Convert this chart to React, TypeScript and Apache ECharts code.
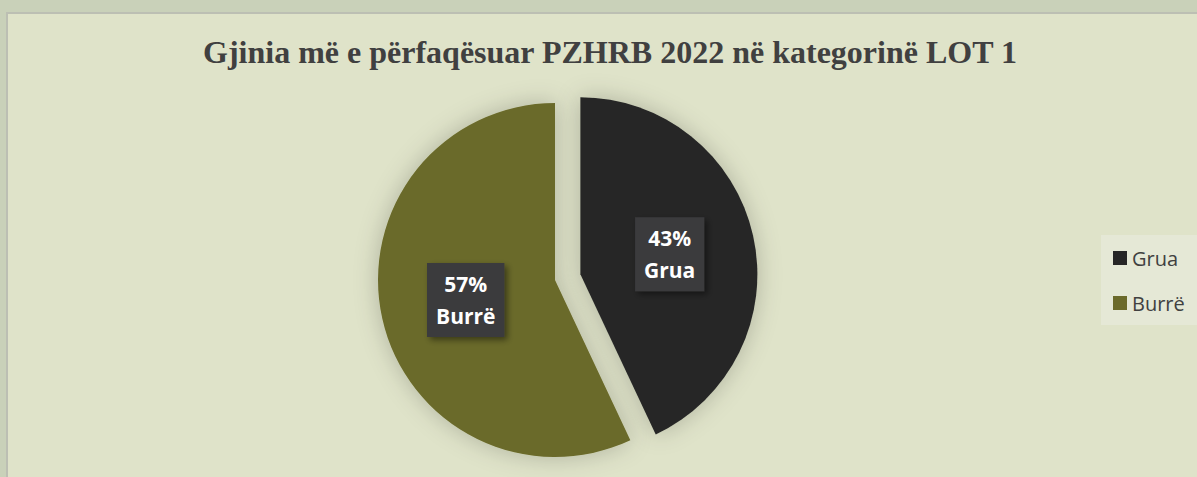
import React, { useEffect, useRef } from "react";
import * as echarts from "echarts";

const categories = ["Grua", "Burrë"];
const values = [43, 57];
const colors = ["#262626", "#6b6a2b"];
const titleText = "Gjinia më e përfaqësuar PZHRB 2022 në kategorinë LOT 1";

export default function App() {
  const ref = useRef<HTMLDivElement>(null);
  useEffect(() => {
    if (!ref.current) return;
    const chart = echarts.init(ref.current, undefined, { renderer: "svg" });
    const total = values.reduce((a, b) => a + b, 0);
    chart.setOption({
      animation: false,
      backgroundColor: "#c9d1b9",
      graphic: [
        {
          type: "rect",
          z: -10,
          shape: { x: 7, y: 13, width: 1200, height: 480 },
          style: { fill: "#dfe3c9", stroke: "#bcbfb3", lineWidth: 2 },
          silent: true,
        },
        {
          type: "rect",
          z: -5,
          shape: { x: 1101, y: 235, width: 100, height: 90 },
          style: { fill: "#e5e8d6" },
          silent: true,
        },
        {
          type: "text",
          x: 610,
          y: 52,
          style: {
            text: titleText,
            align: "center",
            verticalAlign: "middle",
            fontFamily: "Liberation Serif, Times New Roman, serif",
            fontWeight: "bold",
            fontSize: 32,
            fill: "#404040",
          },
          silent: true,
        },
      ],
      legend: {
        orient: "vertical",
        left: 1113,
        top: 247,
        padding: 0,
        itemWidth: 14,
        itemHeight: 14,
        itemGap: 23,
        icon: "rect",
        data: categories,
        textStyle: {
          fontFamily: "Open Sans, sans-serif",
          fontSize: 20,
          lineHeight: 22,
          color: "#404040",
        },
      },
      series: [
        {
          type: "pie",
          center: [555, 280],
          radius: 177,
          startAngle: 90,
          clockwise: true,
          selectedMode: "single",
          selectedOffset: 26,
          avoidLabelOverlap: false,
          itemStyle: {
            shadowBlur: 25,
            shadowColor: "rgba(0,0,0,0.22)",
          },
          emphasis: { disabled: true },
          select: { itemStyle: { shadowBlur: 25, shadowColor: "rgba(0,0,0,0.22)" } },
          label: {
            show: true,
            position: "inside",
            formatter: (p: any) => `${Math.round((p.value / total) * 100)}%\n${p.name}`,
            color: "#ffffff",
            fontFamily: "Open Sans, sans-serif",
            fontWeight: "bold",
            fontSize: 21,
            lineHeight: 32,
            backgroundColor: "#3b3b3d",
            padding: [5, 9, 5, 9],
            shadowColor: "rgba(0,0,0,0.45)",
            shadowBlur: 6,
            shadowOffsetX: 3,
            shadowOffsetY: 3,
          },
          labelLine: { show: false },
          data: categories.map((name, i) => ({
            name,
            value: values[i],
            selected: i === 0,
            itemStyle: { color: colors[i] },
          })),
        },
      ],
    });
    return () => chart.dispose();
  }, []);
  return (
    <div
      ref={ref}
      style={{ position: "absolute", left: 0, top: 0, width: 1197, height: 477 }}
    />
  );
}
